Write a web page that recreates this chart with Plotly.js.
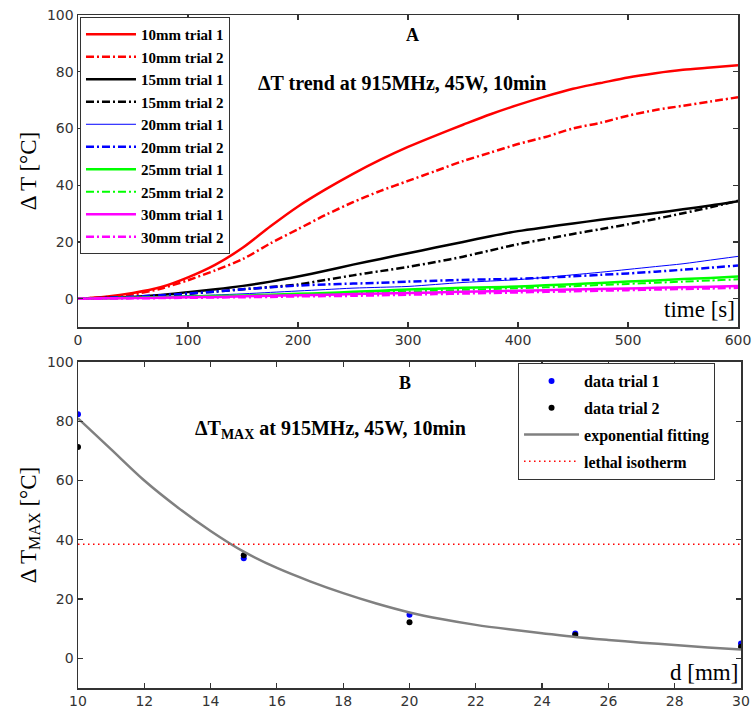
<!DOCTYPE html>
<html><head><meta charset="utf-8">
<script src="https://cdn.plot.ly/plotly-3.0.1.min.js"></script>
<style>html,body{margin:0;padding:0;background:#fff}</style>
</head><body><div id="chart" style="width:755px;height:713px"></div>
<script>
// ---- Panel A: temperature rise vs time ----
const time = [0,25,50,75,100,125,150,175,200,225,250,275,300,325,350,375,400,425,450,475,500,525,550,575,600];
const mm10_t1 = [0,0.7,2,4,7.5,12,18,25.5,32.5,38.5,44,49,53.5,57.5,61.3,65,68.3,71.3,74,76,78,79.5,80.7,81.5,82.3];
const mm10_t2 = [0,0.5,1.5,3.5,6.5,10,14,19.5,24.5,29.5,34,38,41.5,45,48.5,51.5,54.5,57,60,62,64.5,66.5,68,69.5,71];
const mm15_t1 = [0,0.2,0.6,1.3,2.3,3.3,4.5,6,7.8,9.8,12,14,16,18,20,22,23.8,25.2,26.5,27.8,29,30.2,31.5,32.8,34.3];
const mm15_t2 = [0,0.2,0.5,1,1.7,2.5,3.3,4.1,5,6.6,8.2,9.7,11.2,12.9,14.8,17,19.2,21,22.8,24.5,26.2,28.1,30.1,32.2,34.5];
const mm20_t1 = [0,0.2,0.4,0.7,1,1.3,1.7,2.2,2.7,3.2,3.7,4,4.3,5,5.7,6.2,6.7,7.5,8.4,9.3,10.3,11.3,12.3,13.6,14.9];
const mm20_t2 = [0,0.3,0.7,1.2,1.8,2.5,3.3,4,4.6,5,5.3,5.6,6,6.3,6.6,6.8,7,7.4,7.9,8.4,8.9,9.5,10.2,10.9,11.7];
const mm25_t1 = [0,0.1,0.3,0.5,0.7,0.9,1.1,1.4,1.7,2,2.4,2.8,3.2,3.5,3.8,4,4.3,4.7,5.1,5.5,6,6.4,6.9,7.3,7.8];
const mm25_t2 = [0,0,0.2,0.3,0.5,0.7,0.9,1.1,1.3,1.6,1.9,2.2,2.5,2.8,3.1,3.4,3.7,4,4.4,4.8,5.2,5.6,6,6.4,6.8];
const mm30_t1 = [0,0.1,0.2,0.3,0.5,0.6,0.8,1,1.2,1.4,1.6,1.8,2,2.2,2.4,2.6,2.8,3,3.2,3.4,3.6,3.8,4,4.2,4.5];
const mm30_t2 = [0,0,0.1,0.2,0.3,0.4,0.5,0.6,0.8,0.9,1,1.2,1.4,1.6,1.8,2,2.2,2.4,2.6,2.8,3,3.2,3.4,3.6,3.8];
const seriesNamesA = ['10mm trial 1','10mm trial 2','15mm trial 1','15mm trial 2','20mm trial 1','20mm trial 2','25mm trial 1','25mm trial 2','30mm trial 1','30mm trial 2'];

// ---- Panel B: max temperature rise vs distance ----
const dist = [10,15,20,25,30];
const dTmax_t1 = [82.4,33.8,14.7,8.4,5];
const dTmax_t2 = [71.3,34.8,12.2,7.9,3.9];
const fitDist = [10,11,12,13,14,15,16,17,18,19,20,21,22,23,24,25,26,27,28,29,30];
const fitVals = [81,70.5,60,51,43,36,30.5,26,22,18.5,15.5,13.2,11.3,9.8,8.5,7.2,6.2,5.3,4.5,3.7,3];
const isoDist = [10,30];
const isoVals = [38.5,38.5];
const seriesNamesB = ['data trial 1','data trial 2','exponential fitting','lethal isotherm'];

const xTicksA = [0,100,200,300,400,500,600];
const yTicks = [0,20,40,60,80,100];
const xTicksB = [10,12,14,16,18,20,22,24,26,28,30];

const DD = '8px,3px,2px,3px';
const stylesA = [
  {color:'#ff0000', width:2.5, dash:'solid'},
  {color:'#ff0000', width:2.5, dash:DD},
  {color:'#000000', width:2.5, dash:'solid'},
  {color:'#000000', width:2.5, dash:DD},
  {color:'#0000ff', width:1, dash:'solid'},
  {color:'#0000ff', width:2.5, dash:DD},
  {color:'#00ff00', width:2.5, dash:'solid'},
  {color:'#00ff00', width:2, dash:DD},
  {color:'#ff00ff', width:2.5, dash:'solid'},
  {color:'#ff00ff', width:2.5, dash:DD}
];
const dataA = [mm10_t1,mm10_t2,mm15_t1,mm15_t2,mm20_t1,mm20_t2,mm25_t1,mm25_t2,mm30_t1,mm30_t2];

const traces = [];
dataA.forEach((ys,i)=>{
  traces.push({x:time, y:ys, type:'scatter', mode:'lines', name:seriesNamesA[i],
    line:Object.assign({shape:'spline', smoothing:0.8}, stylesA[i]), xaxis:'x', yaxis:'y', legend:'legend'});
});
traces.push({x:dist, y:dTmax_t1, type:'scatter', mode:'markers', name:seriesNamesB[0],
  marker:{color:'#0000ff', size:6}, xaxis:'x2', yaxis:'y2', legend:'legend2', legendgroup:'b0'});
traces.push({x:dist, y:dTmax_t2, type:'scatter', mode:'markers', name:seriesNamesB[1],
  marker:{color:'#000000', size:6}, xaxis:'x2', yaxis:'y2', legend:'legend2', legendgroup:'b1'});
traces.push({x:fitDist, y:fitVals, type:'scatter', mode:'lines', name:seriesNamesB[2],
  line:{color:'#808080', width:2.5, shape:'spline', smoothing:0.8}, xaxis:'x2', yaxis:'y2', legend:'legend2', legendgroup:'b2'});
traces.push({x:isoDist, y:isoVals, type:'scatter', mode:'lines', name:seriesNamesB[3],
  line:{color:'#ff0000', width:1.5, dash:'1.5px,3.5px'}, xaxis:'x2', yaxis:'y2', legend:'legend2', legendgroup:'b3'});

const tickFont = {family:'DejaVu Sans', size:14, color:'#333'};
const titleFont = {family:'Liberation Serif', size:23, color:'#000'};
const axisCommon = {showline:true, linecolor:'#333', linewidth:1.5, mirror:'ticks', ticks:'inside',
  ticklen:5, tickcolor:'#333', tickwidth:1.2, showgrid:false, zeroline:false, tickfont:tickFont};

const serifBold = (size)=>({family:'Liberation Serif', size:size, color:'#000', weight:'bold'});

const layout = {
  width:755, height:713,
  margin:{l:78, r:14, t:15, b:25},
  paper_bgcolor:'#fff', plot_bgcolor:'#fff',
  showlegend:true,
  xaxis:Object.assign({}, axisCommon, {domain:[0,0.9955], range:[0,600], tickvals:xTicksA, anchor:'y'}),
  yaxis:Object.assign({}, axisCommon, {domain:[0.5364,1], range:[-10,100], tickvals:yTicks, anchor:'x',
    title:{text:'Δ T [°C]', font:titleFont, standoff:4}}),
  xaxis2:Object.assign({}, axisCommon, {domain:[0,1], range:[10,30], tickvals:xTicksB, anchor:'y2'}),
  yaxis2:Object.assign({}, axisCommon, {domain:[0,0.4844], range:[-10,100], tickvals:yTicks, anchor:'x2',
    title:{text:'Δ T<sub>MAX</sub> [°C]', font:titleFont, standoff:4}}),
  legend:{x:0.003, y:0.997, xanchor:'left', yanchor:'top', bgcolor:'#fff', bordercolor:'#333', borderwidth:1,
    font:serifBold(15), itemwidth:50, traceorder:'normal'},
  legend2:{x:0.6637, y:0.4829, xanchor:'left', yanchor:'top', bgcolor:'#fff', bordercolor:'#333', borderwidth:1,
    font:serifBold(16), itemwidth:55, tracegroupgap:3, traceorder:'grouped'},
  annotations:[
    {xref:'paper', yref:'paper', x:0.5038, y:0.9703, text:'A', showarrow:false, font:serifBold(18), xanchor:'center', yanchor:'middle'},
    {xref:'paper', yref:'paper', x:0.2685, y:0.899, text:'ΔT trend at 915MHz, 45W, 10min', showarrow:false, font:serifBold(20), xanchor:'left', yanchor:'middle'},
    {xref:'paper', yref:'paper', x:0.994, y:0.5617, text:'time [s]', showarrow:false, font:{family:'Liberation Serif', size:23, color:'#000'}, xanchor:'right', yanchor:'middle'},
    {xref:'paper', yref:'paper', x:0.4932, y:0.4532, text:'B', showarrow:false, font:serifBold(18), xanchor:'center', yanchor:'middle'},
    {xref:'paper', yref:'paper', x:0.1735, y:0.3834, text:'ΔT<sub>MAX</sub> at 915MHz, 45W, 10min', showarrow:false, font:serifBold(20), xanchor:'left', yanchor:'middle'},
    {xref:'paper', yref:'paper', x:0.9985, y:0.0223, text:'d [mm]', showarrow:false, font:{family:'Liberation Serif', size:23, color:'#000'}, xanchor:'right', yanchor:'middle'}
  ]
};

Plotly.newPlot('chart', traces, layout, {displayModeBar:false, staticPlot:true});
</script>
</body></html>
